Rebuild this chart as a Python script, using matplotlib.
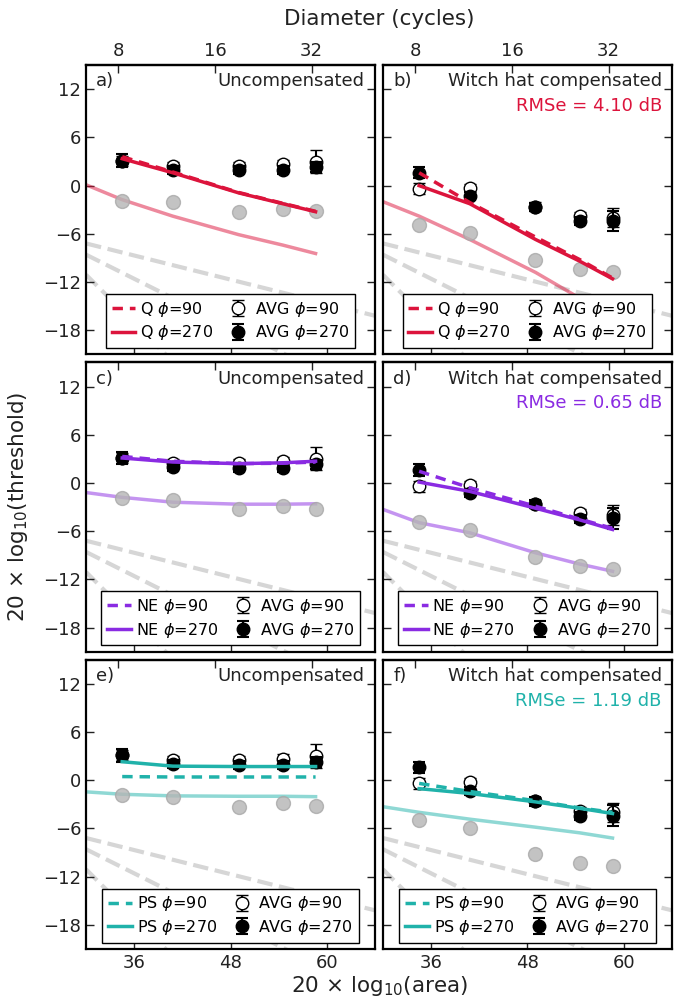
import numpy as np
import matplotlib.pyplot as plt

# x positions (20*log10(area)) of the five stimulus sizes
x_area = [34.5, 40.8, 49.0, 54.5, 58.6]
x_light = [30.0, 34.5, 40.8, 49.0, 54.5, 58.6]
diam_ticks = [8, 16, 32]

# measured averages (uncompensated / witch hat compensated)
avg90_unc = [3.1, 2.5, 2.5, 2.7, 3.0]
avg90_unc_err = [0.6, 0.5, 0.5, 0.5, 1.45]
avg270_unc = [3.1, 2.0, 1.9, 1.9, 2.3]
avg270_unc_err = [0.8, 0.5, 0.5, 0.5, 0.6]
gray_unc = [-1.9, -2.1, -3.3, -2.9, -3.2]

avg90_comp = [-0.4, -0.25, -2.6, -3.8, -4.0]
avg90_comp_err = [0.7, 0.5, 0.5, 0.5, 1.2]
avg270_comp = [1.6, -1.3, -2.65, -4.45, -4.4]
avg270_comp_err = [0.7, 0.5, 0.5, 0.5, 1.3]
gray_comp = [-4.9, -5.9, -9.2, -10.35, -10.7]

# model predictions
q90_unc = [3.6, 1.7, -0.85, -2.2, -3.2]
q270_unc = [3.35, 1.6, -0.9, -2.25, -3.25]
q_light_unc = [0.1, -1.75, -3.8, -6.1, -7.4, -8.45]
q90_comp = [1.6, -2.1, -6.4, -9.2, -11.5]
q270_comp = [0.0, -2.25, -6.7, -9.4, -11.6]
q_light_comp = [-2.0, -3.8, -6.7, -10.8, -14.0, -16.5]

ne90_unc = [3.3, 2.7, 2.4, 2.45, 2.6]
ne270_unc = [3.1, 2.6, 2.4, 2.5, 2.7]
ne_light_unc = [-1.2, -1.8, -2.4, -2.65, -2.65, -2.6]
ne90_comp = [1.45, -0.6, -2.9, -4.5, -5.65]
ne270_comp = [0.1, -1.05, -3.15, -4.6, -5.8]
ne_light_comp = [-3.3, -4.95, -6.2, -8.7, -10.1, -11.0]

ps90_unc = [0.45, 0.4, 0.4, 0.4, 0.4]
ps270_unc = [2.3, 1.75, 1.7, 1.7, 1.7]
ps_light_unc = [-1.45, -1.75, -1.95, -2.0, -2.0, -2.05]
ps90_comp = [-0.4, -1.4, -2.55, -3.45, -4.0]
ps270_comp = [-1.05, -1.65, -2.7, -3.5, -4.15]
ps_light_comp = [-3.3, -4.0, -4.85, -5.85, -6.55, -7.2]

# background reference lines
ref_x = [30, 66]
ref1 = [-7.2, -16.2]
ref2 = [-8.6, -26.6]
ref3 = [-11.1, -47.1]

models = ['Q', 'NE', 'PS']
colors = ['#dc143c', '#8a2be2', '#20b2aa']
rmse = ['4.10', '0.65', '1.19']
model_unc = [(q90_unc, q270_unc, q_light_unc),
             (ne90_unc, ne270_unc, ne_light_unc),
             (ps90_unc, ps270_unc, ps_light_unc)]
model_comp = [(q90_comp, q270_comp, q_light_comp),
              (ne90_comp, ne270_comp, ne_light_comp),
              (ps90_comp, ps270_comp, ps_light_comp)]
letters = ['a)', 'b)', 'c)', 'd)', 'e)', 'f)']

plt.rcParams['font.family'] = 'DejaVu Sans'
plt.rcParams['mathtext.fontset'] = 'dejavusans'

fig, axes = plt.subplots(3, 2, figsize=(6.78, 10.02), dpi=100)
fig.subplots_adjust(left=0.127, right=0.991, top=0.935, bottom=0.053,
                    wspace=0.028, hspace=0.028)


def draw_panel(ax, row, col):
    comp = col == 1
    color = colors[row]
    name = models[row]
    m90, m270, mlight = model_comp[row] if comp else model_unc[row]
    a90, e90 = (avg90_comp, avg90_comp_err) if comp else (avg90_unc, avg90_unc_err)
    a270, e270 = (avg270_comp, avg270_comp_err) if comp else (avg270_unc, avg270_unc_err)
    gray = gray_comp if comp else gray_unc

    for ref in (ref1, ref2, ref3):
        ax.plot(ref_x, ref, '--', color='#d6d6d6', lw=3, zorder=1)

    ax.plot(x_light, mlight, '-', color=color, lw=2.5, alpha=0.5, zorder=2)
    ax.plot(x_area, gray, 'o', color='#b5b5b5', mec='#a8a8a8', ms=10,
            alpha=0.8, zorder=2)

    h90 = ax.errorbar(x_area, a90, yerr=e90, fmt='o', mfc='white', mec='black',
                      mew=1, ms=9, ecolor='black', elinewidth=1.5, capsize=4,
                      capthick=1.5, zorder=3)
    h270 = ax.errorbar(x_area, a270, yerr=e270, fmt='o', mfc='black', mec='black',
                       ms=9, ecolor='black', elinewidth=1.5, capsize=4,
                       capthick=1.5, zorder=4)

    l90, = ax.plot(x_area, m90, color=color, lw=2.5, dashes=(3, 2), zorder=5)
    l270, = ax.plot(x_area, m270, '-', color=color, lw=2.5, zorder=5)

    leg = ax.legend([l90, l270, h90, h270],
                    [name + r' $\phi$=90', name + r' $\phi$=270',
                     r'AVG $\phi$=90', r'AVG $\phi$=270'],
                    loc='lower center', ncol=2, fontsize=11.5, numpoints=1,
                    fancybox=False, handlelength=1.5, handletextpad=0.3,
                    columnspacing=0.8, borderpad=0.35, labelspacing=0.3,
                    borderaxespad=0.4, framealpha=1)
    leg.get_frame().set_edgecolor('black')
    leg.get_frame().set_linewidth(1.0)
    leg.set_zorder(10)

    ax.set_xlim(30, 66)
    ax.set_ylim(-21, 15)
    ax.set_xticks([36, 48, 60])
    ax.set_yticks([-18, -12, -6, 0, 6, 12])
    ax.tick_params(direction='in', length=6, width=1, labelsize=13,
                   right=True, top=False, colors='#222222')
    if col == 1:
        ax.tick_params(labelleft=False)
    if row < 2:
        ax.tick_params(labelbottom=False)
    for s in ax.spines.values():
        s.set_linewidth(1.6)

    # top axis in diameter
    sec = ax.secondary_xaxis('top')
    pos = [20 * np.log10(np.pi * (d / 2.0) ** 2) for d in diam_ticks]
    sec.set_xticks(pos, [str(d) for d in diam_ticks])
    sec.tick_params(direction='in', length=6, width=1, labelsize=13,
                    labeltop=(row == 0), colors='#222222')
    sec.spines['top'].set_linewidth(1.6)

    ax.text(0.035, 0.975, letters[row * 2 + col], transform=ax.transAxes,
            ha='left', va='top', fontsize=13, color='#222222')
    ax.text(0.965, 0.975, 'Witch hat compensated' if comp else 'Uncompensated',
            transform=ax.transAxes, ha='right', va='top', fontsize=13,
            color='#222222')
    if comp:
        ax.text(0.965, 0.89, 'RMSe = ' + rmse[row] + ' dB', transform=ax.transAxes,
                ha='right', va='top', fontsize=13, color=color)


for r in range(3):
    for c in range(2):
        draw_panel(axes[r, c], r, c)

fig.text(0.56, 0.981, 'Diameter (cycles)', ha='center', va='center',
         fontsize=15.5, color='#222222')
fig.text(0.56, 0.016, r'20 $\times$ log$_{10}$(area)', ha='center', va='center',
         fontsize=15.5, color='#222222')
fig.text(0.026, 0.494, r'20 $\times$ log$_{10}$(threshold)', ha='center',
         va='center', rotation=90, fontsize=15.5, color='#222222')

fig.savefig('out.png', dpi=100)
